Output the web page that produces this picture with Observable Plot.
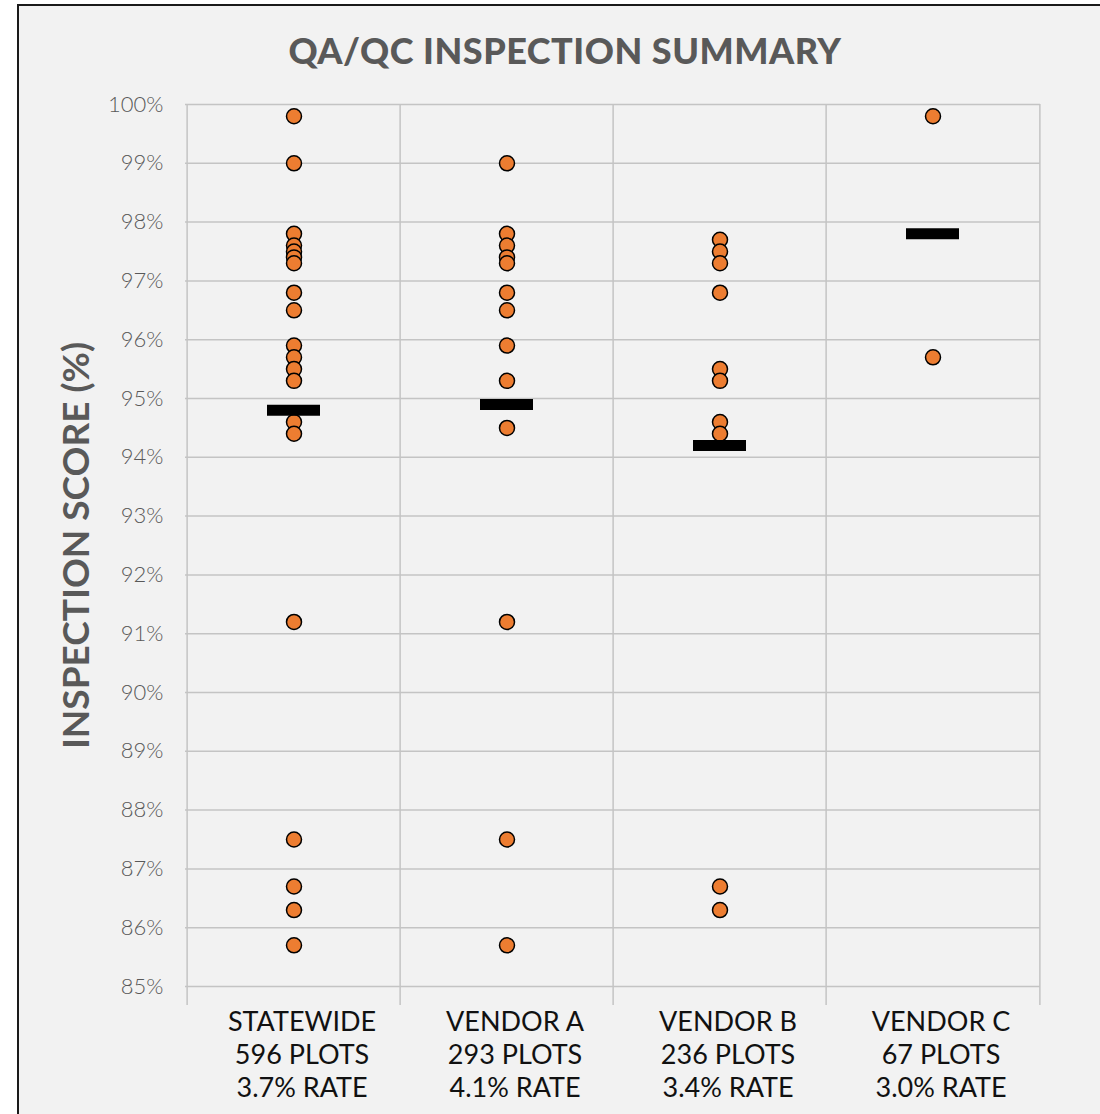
<!DOCTYPE html>
<html>
<head>
<meta charset="utf-8">
<script src="https://cdn.jsdelivr.net/npm/d3@7"></script>
<script src="https://cdn.jsdelivr.net/npm/@observablehq/plot@0.6"></script>
<style>
  body { margin: 0; background: #ffffff; }
  #frame {
    position: absolute; left: 17px; top: 4px; width: 1100px; height: 1120px;
    background: #f2f2f2; border-top: 2px solid #1a1a1a; border-left: 2px solid #1a1a1a;
    box-sizing: border-box; overflow: hidden;
  }
  #title {
    width: 1092px; height: 74px; line-height: 88px; text-align: center;
    font-family: Lato, "Open Sans", sans-serif; font-weight: 900; font-size: 36px;
    color: #595959; letter-spacing: 0.5px; overflow: visible; white-space: nowrap;
  }
  #chart svg { display: block; }
</style>
</head>
<body>
<div id="frame">
  <div id="title">QA/QC INSPECTION SUMMARY</div>
  <div id="chart"></div>
</div>
<script>
const categories = ["STATEWIDE", "VENDOR A", "VENDOR B", "VENDOR C"];
const plotCounts = [596, 293, 236, 67];
const rates = ["3.7%", "4.1%", "3.4%", "3.0%"];

const statewide = [99.8, 99.0, 97.8, 97.6, 97.5, 97.4, 97.3, 96.8, 96.5, 95.9, 95.7, 95.5, 95.3, 94.6, 94.4, 91.2, 87.5, 86.7, 86.3, 85.7];
const vendorA = [99.0, 97.8, 97.6, 97.4, 97.3, 96.8, 96.5, 95.9, 95.3, 94.5, 91.2, 87.5, 85.7];
const vendorB = [97.7, 97.5, 97.3, 96.8, 95.5, 95.3, 94.6, 94.4, 86.7, 86.3];
const vendorC = [99.8, 95.7];
const averages = [94.8, 94.9, 94.2, 97.8];

const yTicks = d3.range(85, 101, 1);

const seriesList = [statewide, vendorA, vendorB, vendorC];
const points = seriesList.flatMap((vals, i) => vals.map(v => ({cat: categories[i], score: v})));
const means = categories.map((c, i) => ({cat: c, score: averages[i]}));
const labelOf = new Map(categories.map((c, i) => [c, `${c}\n${plotCounts[i]} PLOTS\n${rates[i]} RATE`]));

const W = 1081, H = 1034, mL = 166, mR = 60, mT = 24, mB = 128;
const bw = (W - mL - mR) / categories.length;

const chart = Plot.plot({
  width: W, height: H,
  marginLeft: mL, marginRight: mR, marginTop: mT, marginBottom: mB,
  style: {background: "transparent", fontFamily: "Lato, 'Open Sans', sans-serif"},
  x: {type: "band", domain: categories, padding: 0},
  y: {domain: [85, 100]},
  marks: [
    Plot.gridY(yTicks, {stroke: "#c4c4c4", strokeOpacity: 1, strokeWidth: 1.5}),
    Plot.ruleX(categories, {x: d => d, dx: -bw / 2, stroke: "#c4c4c4", strokeWidth: 1.5, insetBottom: -19}),
    Plot.ruleX(categories.slice(-1), {x: d => d, dx: bw / 2, stroke: "#c4c4c4", strokeWidth: 1.5, insetBottom: -19}),
    Plot.axisY(yTicks, {tickSize: 0, tickPadding: 22, tickFormat: d => d + "%", fontSize: 22, fontWeight: 300, fill: "#595959", label: null}),
    Plot.axisX({tickSize: 0, tickPadding: 21, tickFormat: d => labelOf.get(d), fontSize: 27, lineHeight: 1.22, fill: "#111111", dx: 8, label: null}),
    Plot.text(["INSPECTION SCORE (%)"], {frameAnchor: "left", textAnchor: "middle", rotate: -90, dx: -108, fontSize: 37, fontWeight: "bold", fill: "#595959"}),
    Plot.dot(points, {x: "cat", y: "score", r: 7.5, fill: "#ED7D31", stroke: "#000000", strokeWidth: 1.5}),
    Plot.tickY(means, {x: "cat", y: "score", stroke: "#000000", strokeWidth: 11, insetLeft: 80, insetRight: 80, strokeLinecap: "butt"})
  ]
});
document.getElementById("chart").appendChild(chart);
</script>
</body>
</html>
